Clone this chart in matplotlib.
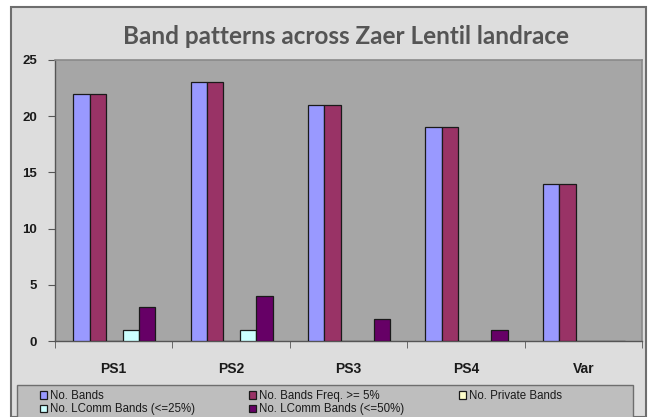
import matplotlib
matplotlib.use("Agg")
import matplotlib.pyplot as plt
import numpy as np
from matplotlib.patches import Rectangle

categories = ["PS1", "PS2", "PS3", "PS4", "Var"]
series_names = ["No. Bands", "No. Bands Freq. >= 5%", "No. Private Bands",
                "No. LComm Bands (<=25%)", "No. LComm Bands (<=50%)"]
no_bands = [22, 23, 21, 19, 14]
no_bands_freq5 = [22, 23, 21, 19, 14]
no_private = [0, 0, 0, 0, 0]
no_lcomm25 = [1, 1, 0, 0, 0]
no_lcomm50 = [3, 4, 2, 1, 0]
series_values = [no_bands, no_bands_freq5, no_private, no_lcomm25, no_lcomm50]
colors = ["#9999FF", "#993366", "#FFFFCC", "#CCFFFF", "#660066"]
yticks = [0, 5, 10, 15, 20, 25]

W, H = 649, 417
fig = plt.figure(figsize=(W / 100, H / 100), dpi=100)
fig.patch.set_facecolor("white")

# chart area background with border
fig.patches.append(Rectangle((11 / W, 0), (646 - 11) / W, (H - 7) / H,
                             transform=fig.transFigure, facecolor="#DDDDDD",
                             edgecolor="#6E6E6E", linewidth=1.5, zorder=-5))
# legend box
fig.patches.append(Rectangle((17 / W, -0.01), (633 - 17) / W, (H - 385) / H + 0.01,
                             transform=fig.transFigure, facecolor="#BEBEBE",
                             edgecolor="#6E6E6E", linewidth=1.0, zorder=-4))

ax = fig.add_axes([55 / W, 1 - 341 / H, (642 - 55) / W, (341 - 60) / H])
ax.set_zorder(2)
ax.set_facecolor("#A6A6A6")

x = np.arange(len(categories))
bw = 0.14
for i, (name, vals, c) in enumerate(zip(series_names, series_values, colors)):
    ax.bar(x - 0.345 + bw / 2 + i * bw, vals, width=bw, color=c,
           edgecolor="#1A1A1A", linewidth=0.9, label=name, zorder=3)

ax.set_xlim(-0.5, len(categories) - 0.5)
ax.set_ylim(0, 25)
ax.set_yticks(yticks)
ax.set_xticks(x)
ax.set_xticklabels(categories, fontsize=10, fontweight="bold",
                   fontfamily="Liberation Sans", color="#1A1A1A")
ax.set_xticks(np.arange(-0.5, len(categories)), minor=True)
ax.tick_params(axis="x", which="major", length=0, pad=15)
ax.tick_params(axis="x", which="minor", length=5, direction="out", color="#555555")
ax.tick_params(axis="y", length=5, direction="out", color="#555555", pad=8)
for lab in ax.get_yticklabels():
    lab.set_fontsize(9.5)
    lab.set_fontweight("bold")
    lab.set_fontfamily("Liberation Sans")
    lab.set_color("#1A1A1A")

for s in ["top", "right"]:
    ax.spines[s].set_color("#8A8A8A")
    ax.spines[s].set_linewidth(1.2)
for s in ["left", "bottom"]:
    ax.spines[s].set_color("#555555")
    ax.spines[s].set_linewidth(1.0)

fig.text(346 / W, 1 - 36 / H, "Band patterns across Zaer Lentil landrace",
         ha="center", va="center", fontsize=17.5, fontweight="bold",
         fontfamily="Lato", color="#555555")

handles, labels = ax.get_legend_handles_labels()
columns = [[0, 3], [1, 4], [2]]
col_x = [40, 249, 459]
for cx, idxs in zip(col_x, columns):
    leg = fig.legend([handles[i] for i in idxs], [labels[i] for i in idxs],
                     loc="upper left",
                     bbox_to_anchor=(cx / W, 1 - 390 / H),
                     frameon=False, ncol=1,
                     prop={"family": "Liberation Sans", "size": 8.3},
                     handlelength=0.6, handleheight=0.6, handletextpad=0.25,
                     borderpad=0.0, labelspacing=0.12, borderaxespad=0.0)
    leg.set_zorder(5)
    for t in leg.get_texts():
        t.set_color("#1A1A1A")

fig.savefig("out.png", dpi=100, facecolor=fig.get_facecolor())
